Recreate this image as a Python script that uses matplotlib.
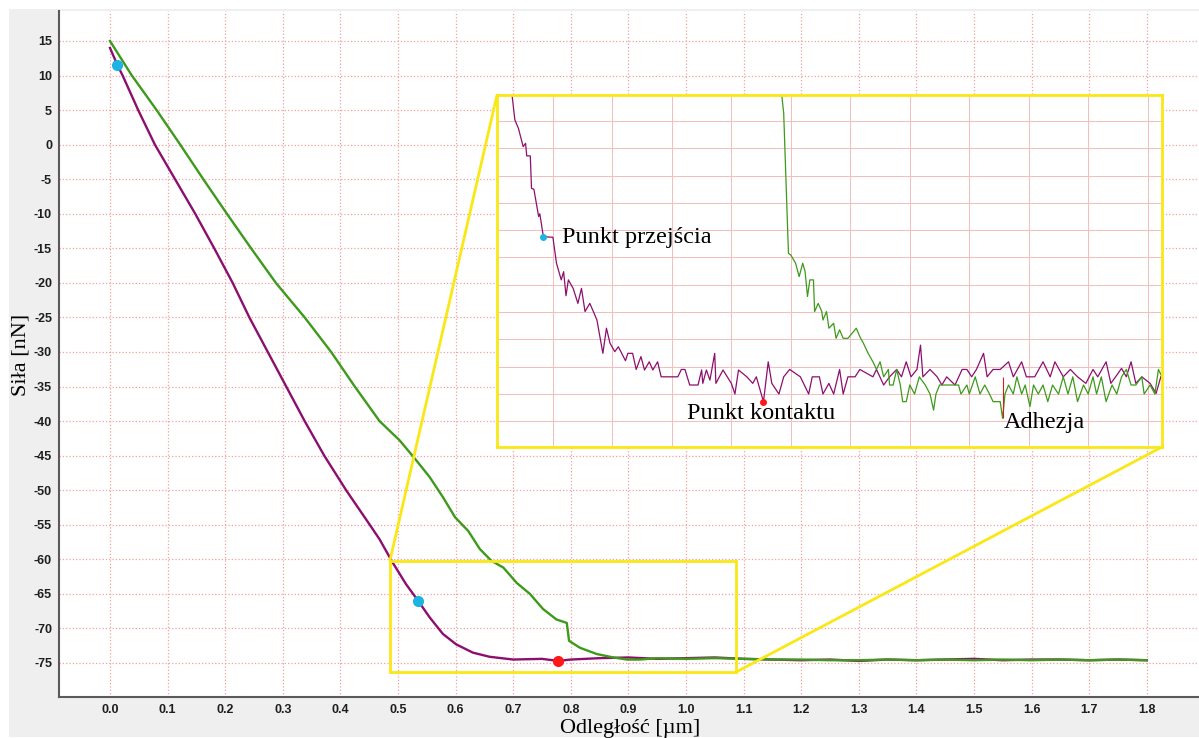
import numpy as np
import matplotlib
matplotlib.use('Agg')
import matplotlib.pyplot as plt
from matplotlib.patches import Rectangle, ConnectionPatch
from matplotlib.ticker import MultipleLocator

# main curves (distance in um, force in nN)
approach_x = [0.0, 0.013, 0.022, 0.049, 0.078, 0.113, 0.148, 0.181, 0.213, 0.242,
              0.274, 0.306, 0.338, 0.372, 0.410, 0.451, 0.468, 0.491, 0.514, 0.535,
              0.555, 0.578, 0.601, 0.630, 0.659, 0.700, 0.750, 0.778, 0.800, 0.850,
              0.900, 0.950, 1.000, 1.050, 1.100, 1.150, 1.200, 1.250, 1.300, 1.350,
              1.400, 1.450, 1.500, 1.550, 1.600, 1.650, 1.700, 1.750, 1.800]
approach_y = [14.0, 11.5, 10.0, 5.0, 0.0, -5.0, -10.0, -15.0, -20.0, -25.0,
              -30.0, -35.0, -40.0, -45.0, -50.0, -55.0, -57.1, -60.5, -63.6, -66.0,
              -68.4, -70.8, -72.3, -73.5, -74.1, -74.5, -74.4, -74.7, -74.5, -74.3,
              -74.2, -74.4, -74.3, -74.2, -74.4, -74.5, -74.6, -74.5, -74.7, -74.5,
              -74.6, -74.5, -74.4, -74.6, -74.5, -74.5, -74.6, -74.5, -74.6]

retract_x = [0.0, 0.038, 0.081, 0.122, 0.162, 0.203, 0.245, 0.288, 0.338, 0.384,
             0.425, 0.468, 0.503, 0.532, 0.555, 0.578, 0.599, 0.622, 0.642, 0.662,
             0.683, 0.706, 0.729, 0.752, 0.775, 0.793, 0.797, 0.816, 0.845, 0.874,
             0.897, 0.920, 0.950, 1.000, 1.050, 1.100, 1.150, 1.200, 1.250, 1.300,
             1.350, 1.400, 1.450, 1.500, 1.550, 1.600, 1.650, 1.700, 1.750, 1.800]
retract_y = [15.0, 10.0, 5.0, 0.0, -5.0, -10.0, -15.0, -20.0, -25.0, -30.0,
             -35.0, -40.0, -42.8, -45.7, -48.1, -51.0, -53.9, -55.9, -58.5, -60.2,
             -61.2, -63.4, -65.0, -67.2, -68.7, -69.2, -71.8, -72.8, -73.7, -74.2,
             -74.5, -74.5, -74.3, -74.4, -74.3, -74.4, -74.5, -74.5, -74.6, -74.6,
             -74.5, -74.6, -74.5, -74.6, -74.5, -74.6, -74.5, -74.6, -74.5, -74.6]

# marked points on the main plot
transition_x = [0.013, 0.535]
transition_y = [11.5, -66.0]
contact_x = [0.778]
contact_y = [-74.7]

# zoomed region
zoom_box = [0.486, 1.086, -76.35, -60.2]

# inset curves
inset_a_x = [0.515, 0.518, 0.521, 0.525, 0.527, 0.528, 0.531, 0.532, 0.534, 0.538,
             0.539, 0.542, 0.550, 0.553, 0.557, 0.559, 0.561, 0.563, 0.567, 0.571,
             0.574, 0.577, 0.581, 0.584, 0.587, 0.592, 0.595, 0.598, 0.602, 0.605,
             0.611, 0.613, 0.617, 0.620, 0.624, 0.627, 0.631, 0.634, 0.638, 0.641,
             0.655, 0.658, 0.661, 0.665, 0.672, 0.675, 0.676, 0.679, 0.682, 0.686,
             0.687, 0.693, 0.700, 0.703, 0.706, 0.713, 0.718, 0.721, 0.725, 0.727,
             0.731, 0.734, 0.740, 0.744, 0.749, 0.758, 0.765, 0.768, 0.774, 0.777,
             0.782, 0.786, 0.791, 0.794, 0.798, 0.804, 0.808, 0.819, 0.822, 0.828,
             0.833, 0.839, 0.843, 0.847, 0.851, 0.856, 0.859, 0.861, 0.867, 0.873,
             0.877, 0.881, 0.888, 0.894, 0.898, 0.902, 0.906, 0.912, 0.915, 0.920,
             0.926, 0.933, 0.937, 0.944, 0.948, 0.955, 0.962, 0.968, 0.972, 0.979,
             0.985, 0.991, 0.998, 1.004, 1.008, 1.015, 1.019, 1.023, 1.028, 1.032,
             1.036, 1.040, 1.045, 1.052, 1.057, 1.061]
inset_a_y = [-63.8, -64.96, -65.27, -65.94, -65.82, -66.28, -66.28, -67.47, -67.50, -68.50,
             -68.40, -69.24, -69.26, -70.21, -70.82, -70.52, -71.40, -70.82, -71.13, -71.68,
             -71.13, -71.98, -71.68, -71.98, -72.29, -73.51, -72.59, -73.14, -73.45, -73.27,
             -73.78, -73.51, -73.51, -74.10, -73.63, -74.12, -73.82, -74.12, -73.82, -74.37,
             -74.37, -74.10, -74.10, -74.67, -74.67, -74.12, -74.61, -74.12, -74.49, -73.51,
             -74.61, -74.12, -74.61, -75.00, -74.12, -74.37, -74.61, -74.37, -74.98, -75.28,
             -73.82, -74.61, -75.00, -74.37, -74.10, -74.37, -75.00, -74.37, -74.37, -75.00,
             -74.61, -75.00, -74.10, -75.00, -74.37, -74.37, -74.10, -74.37, -74.10, -74.67,
             -74.37, -74.10, -74.37, -73.82, -74.37, -74.10, -73.21, -74.37, -74.10, -74.37,
             -74.67, -74.37, -74.67, -74.10, -74.10, -74.37, -74.10, -73.51, -74.37, -74.10,
             -74.10, -73.82, -74.37, -73.82, -74.37, -74.37, -73.82, -74.37, -73.82, -74.37,
             -74.10, -74.37, -74.61, -74.10, -74.37, -73.82, -74.61, -74.37, -74.06, -74.37,
             -73.82, -74.61, -74.37, -74.61, -74.98, -74.37]

inset_r_x = [0.741, 0.744, 0.748, 0.750, 0.754, 0.757, 0.760, 0.762, 0.764, 0.766,
             0.769, 0.770, 0.773, 0.776, 0.777, 0.780, 0.782, 0.786, 0.788, 0.791,
             0.794, 0.798, 0.805, 0.808, 0.811, 0.815, 0.819, 0.822, 0.825, 0.828,
             0.832, 0.833, 0.836, 0.839, 0.842, 0.844, 0.847, 0.850, 0.854, 0.858,
             0.863, 0.867, 0.870, 0.872, 0.875, 0.884, 0.891, 0.893, 0.898, 0.900,
             0.905, 0.909, 0.913, 0.917, 0.920, 0.926, 0.928, 0.930, 0.933, 0.937,
             0.940, 0.944, 0.947, 0.951, 0.954, 0.958, 0.962, 0.966, 0.970, 0.975,
             0.979, 0.983, 0.987, 0.991, 0.996, 1.000, 1.004, 1.007, 1.011, 1.015,
             1.020, 1.024, 1.028, 1.032, 1.036, 1.040, 1.045, 1.047, 1.052, 1.056,
             1.059, 1.062]
inset_r_y = [-63.5, -64.72, -69.85, -69.91, -70.21, -70.70, -70.21, -70.52, -71.43, -70.82,
             -70.82, -71.98, -71.68, -71.98, -72.29, -71.98, -72.59, -72.41, -72.96, -72.65,
             -72.96, -72.96, -72.59, -72.90, -73.14, -73.51, -73.82, -74.10, -73.82, -74.37,
             -74.10, -74.67, -74.67, -74.10, -74.67, -75.28, -75.28, -74.67, -75.00, -74.37,
             -74.67, -75.00, -75.59, -75.00, -74.67, -74.67, -74.67, -75.00, -74.67, -75.00,
             -74.37, -75.00, -74.67, -75.00, -75.28, -75.28, -75.89, -75.00, -74.67, -75.00,
             -74.37, -75.00, -74.67, -75.46, -74.67, -75.00, -74.67, -75.28, -74.67, -75.00,
             -74.37, -75.00, -74.37, -75.28, -74.67, -75.00, -74.37, -75.00, -74.37, -75.28,
             -74.67, -75.00, -74.37, -74.10, -74.67, -74.67, -74.37, -75.00, -74.67, -75.00,
             -74.10, -74.37]

inset_transition = (0.542, -69.24)
inset_contact = (0.727, -75.28)
inset_adhesion = (0.928, -74.37, -75.89)

x_ticks = np.arange(0, 19) / 10
y_ticks = np.arange(15, -80, -5)

purple = '#8c0f6e'
green = '#3d9a1a'
yellow = '#f9e815'
serif = 'Liberation Serif'

fig = plt.figure(figsize=(11.99, 7.38), dpi=100)
fig.patches.append(Rectangle((9 / 1199, 1 / 738), 1190 / 1199, 728 / 738,
                             transform=fig.transFigure, facecolor='#efefef',
                             edgecolor='none', zorder=-1))

ax = fig.add_axes([59 / 1199, 41 / 738, 1140 / 1199, 686 / 738], zorder=1)
ax.set_facecolor('white')
ax.set_xlim(-0.0885, 1.8906)
ax.set_ylim(-79.92, 19.34)
ax.set_xticks(x_ticks)
ax.set_xticklabels(['%.1f' % v for v in x_ticks])
ax.set_yticks(y_ticks)
ax.set_yticklabels(['%d' % v for v in y_ticks])
ax.tick_params(length=0, pad=5, labelsize=9, labelcolor='#1e1e1e')
for lab in ax.get_xticklabels() + ax.get_yticklabels():
    lab.set_fontfamily('Liberation Sans')
    lab.set_fontweight('bold')
ax.grid(color='#f3a0a0', ls=':', lw=0.9)
ax.set_axisbelow(True)
for s in ['top', 'right']:
    ax.spines[s].set_visible(False)
for s in ['left', 'bottom']:
    ax.spines[s].set_color('#5a5a5a')
    ax.spines[s].set_linewidth(1.5)

ax.plot(approach_x, approach_y, color=purple, lw=1.7)
ax.plot(retract_x, retract_y, color=green, lw=1.7)
ax.plot(transition_x, transition_y, 'o', color='#1db3e2', ms=7, zorder=4)
ax.plot(contact_x, contact_y, 'o', color='#ff1a1a', ms=7, zorder=4)

ax.set_xlabel('Odległość [µm]', family=serif, size=16, va='center')
ax.xaxis.set_label_coords(0.501, -0.046)
ax.set_ylabel('Siła [nN]', family=serif, size=16, va='center')
ax.yaxis.set_label_coords(-0.033, 0.4985)

x0, x1, y0, y1 = zoom_box
ax.add_patch(Rectangle((x0, y0), x1 - x0, y1 - y0, fill=False,
                       edgecolor=yellow, lw=2, zorder=6))

axins = fig.add_axes([497 / 1199, 291 / 738, 665 / 1199, 352 / 738], zorder=5)
axins.set_facecolor('white')
axins.set_xlim(0.503, 1.062)
axins.set_ylim(-76.94, -64.05)
axins.xaxis.set_major_locator(MultipleLocator(0.05))
axins.yaxis.set_major_locator(MultipleLocator(1))
axins.tick_params(length=0, labelbottom=False, labelleft=False)
axins.grid(color='#f3bcbc', lw=0.7)
axins.set_axisbelow(True)
for s in axins.spines.values():
    s.set_color(yellow)
    s.set_linewidth(2)

axins.plot(inset_a_x, inset_a_y, color=purple, lw=0.9)
axins.plot(inset_r_x, inset_r_y, color=green, lw=0.9)
axins.vlines(inset_adhesion[0], inset_adhesion[2], inset_adhesion[1],
             color='#d02020', lw=0.8)
axins.plot(*inset_transition, 'o', color='#1db3e2', ms=4)
axins.plot(*inset_contact, 'o', color='#ff1a1a', ms=4)
axins.text(0.558, -69.25, 'Punkt przejścia', family=serif, size=17.5,
           va='center', ha='left')
axins.text(0.663, -75.70, 'Punkt kontaktu', family=serif, size=17.5,
           va='center', ha='left')
axins.text(0.929, -76.06, 'Adhezja', family=serif, size=17.5,
           va='center', ha='left')

for pa, pb in [((x0, y1), (0, 1)), ((x1, y0), (1, 0))]:
    con = ConnectionPatch(xyA=pa, coordsA='data', axesA=ax,
                          xyB=pb, coordsB='axes fraction', axesB=axins,
                          color=yellow, lw=2, zorder=6)
    fig.add_artist(con)

fig.savefig('out.png', dpi=100, facecolor='white')
